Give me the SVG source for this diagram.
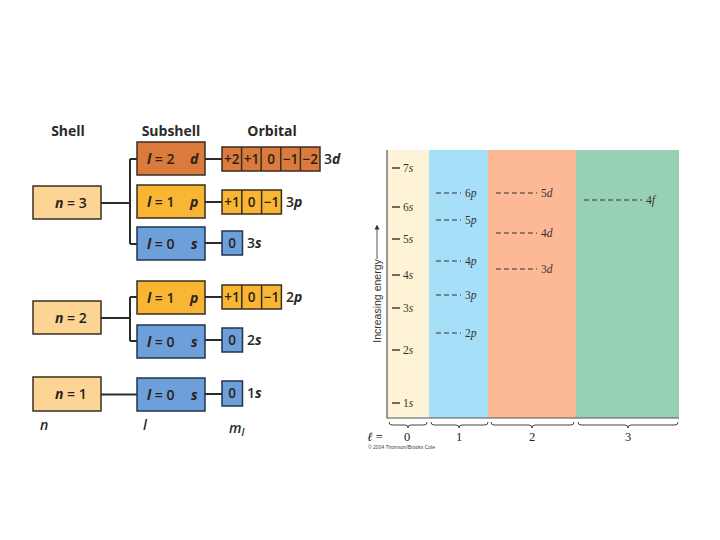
<svg xmlns="http://www.w3.org/2000/svg" width="720" height="540" viewBox="0 0 720 540">
<defs>
<style>
.hdr{font-family:"Open Sans","Liberation Sans",sans-serif;font-weight:700;font-size:14px;fill:#2a2a2a;text-anchor:middle}
.bx{stroke:#3a2e22;stroke-width:1.5}
.n{fill:#FCD493}
.d{fill:#DA7A3C}
.p{fill:#F8B634}
.s{fill:#6D9FDA;stroke:#1f3550}
.t{font-family:"Open Sans","Liberation Sans",sans-serif;font-weight:600;font-size:14px;fill:#2a2218}
.it{font-style:italic;font-weight:700}
.cell{font-family:"Open Sans","Liberation Sans",sans-serif;font-weight:600;font-size:13.5px;fill:#2a2218;text-anchor:middle}
.lbl{font-family:"Open Sans","Liberation Sans",sans-serif;font-weight:600;font-size:14px;fill:#2a2a2a}
.con{stroke:#2a2a2a;stroke-width:2;fill:none}
.lv{font-family:"Liberation Serif",serif;font-size:11.5px;fill:#333}
.sl{stroke:#333;stroke-width:1.4}
.dl{stroke:#333;stroke-width:1.2;stroke-dasharray:5,3}
.br{stroke:#444;stroke-width:1;fill:none}
.ax{font-family:"Liberation Serif",serif;font-size:12.5px;fill:#222;text-anchor:middle}
</style>
<marker id="ah" viewBox="0 0 10 10" refX="5" refY="5" markerWidth="5" markerHeight="6" orient="auto"><path d="M0,0 L10,5 L0,10 Z" fill="#333"/></marker>
</defs>
<rect width="720" height="540" fill="#fff"/>

<g id="headers">
<text class="hdr" x="68" y="136">Shell</text>
<text class="hdr" x="171" y="136">Subshell</text>
<text class="hdr" x="272" y="136">Orbital</text>
</g>

<g id="connectors">
<path class="con" d="M101,203 H130 M130,159 V244 M130,159 H137 M130,244 H137"/>
<path class="con" d="M101,318 H130 M130,297 V341 M130,297 H137 M130,341 H137"/>
<path class="con" d="M101,394.5 H137"/>
<path class="con" d="M205,159 H222 M205,202 H222 M205,243 H222 M205,297 H222 M205,340 H222 M205,394 H222"/>
</g>

<g id="shell-n3"><rect class="bx n" x="33" y="186" width="68" height="33"/><text class="t" x="55" y="208"><tspan class="it">n</tspan> = 3</text></g>
<g id="shell-n2"><rect class="bx n" x="33" y="301" width="68" height="33"/><text class="t" x="55" y="323"><tspan class="it">n</tspan> = 2</text></g>
<g id="shell-n1"><rect class="bx n" x="33" y="377" width="68" height="34"/><text class="t" x="55" y="399"><tspan class="it">n</tspan> = 1</text></g>

<g id="sub-3d"><rect class="bx d" x="137" y="142" width="68" height="33"/><text class="t" x="147" y="164"><tspan class="it">l</tspan> = 2</text><text class="t it" x="190" y="164">d</text></g>
<g id="sub-3p"><rect class="bx p" x="137" y="185" width="68" height="33"/><text class="t" x="147" y="207"><tspan class="it">l</tspan> = 1</text><text class="t it" x="190" y="207">p</text></g>
<g id="sub-3s"><rect class="bx s" x="137" y="227" width="68" height="33"/><text class="t" x="147" y="249"><tspan class="it">l</tspan> = 0</text><text class="t it" x="191" y="249">s</text></g>
<g id="sub-2p"><rect class="bx p" x="137" y="281" width="68" height="33"/><text class="t" x="147" y="303"><tspan class="it">l</tspan> = 1</text><text class="t it" x="190" y="303">p</text></g>
<g id="sub-2s"><rect class="bx s" x="137" y="325" width="68" height="33"/><text class="t" x="147" y="347"><tspan class="it">l</tspan> = 0</text><text class="t it" x="191" y="347">s</text></g>
<g id="sub-1s"><rect class="bx s" x="137" y="378" width="68" height="33"/><text class="t" x="147" y="400"><tspan class="it">l</tspan> = 0</text><text class="t it" x="191" y="400">s</text></g>

<g id="orb-3d">
<rect class="bx d" x="222" y="147" width="98" height="24"/>
<path class="bx" d="M241.6,147V171M261.2,147V171M280.8,147V171M300.4,147V171"/>
<text class="cell" x="231.8" y="164">+2</text><text class="cell" x="251.4" y="164">+1</text><text class="cell" x="271" y="164">0</text><text class="cell" x="290.6" y="164">−1</text><text class="cell" x="310.2" y="164">−2</text>
<text class="lbl" x="324" y="164">3<tspan class="it">d</tspan></text>
</g>
<g id="orb-3p">
<rect class="bx p" x="222" y="190" width="59.4" height="24"/>
<path class="bx" d="M241.8,190V214M261.6,190V214"/>
<text class="cell" x="231.9" y="207">+1</text><text class="cell" x="251.7" y="207">0</text><text class="cell" x="271.5" y="207">−1</text>
<text class="lbl" x="286" y="207">3<tspan class="it">p</tspan></text>
</g>
<g id="orb-3s">
<rect class="bx s" x="222" y="231" width="20.5" height="24"/>
<text class="cell" x="232.2" y="248">0</text>
<text class="lbl" x="247" y="248">3<tspan class="it">s</tspan></text>
</g>
<g id="orb-2p">
<rect class="bx p" x="222" y="285" width="59.4" height="24"/>
<path class="bx" d="M241.8,285V309M261.6,285V309"/>
<text class="cell" x="231.9" y="302">+1</text><text class="cell" x="251.7" y="302">0</text><text class="cell" x="271.5" y="302">−1</text>
<text class="lbl" x="286" y="302">2<tspan class="it">p</tspan></text>
</g>
<g id="orb-2s">
<rect class="bx s" x="222" y="328" width="20.5" height="24"/>
<text class="cell" x="232.2" y="345">0</text>
<text class="lbl" x="247" y="345">2<tspan class="it">s</tspan></text>
</g>
<g id="orb-1s">
<rect class="bx s" x="222" y="381" width="20.5" height="25"/>
<text class="cell" x="232.2" y="398">0</text>
<text class="lbl" x="247" y="398">1<tspan class="it">s</tspan></text>
</g>

<g id="bottom-labels">
<text class="lbl it" x="40" y="430">n</text>
<text class="lbl it" x="143" y="430">l</text>
<text class="lbl it" x="229" y="433">m<tspan font-size="10" dy="3">l</tspan></text>
</g>

<g id="energy-chart">
<rect x="387" y="150" width="42" height="268" fill="#FEF3D6"/>
<rect x="429" y="150" width="59" height="268" fill="#A6DFF8"/>
<rect x="488" y="150" width="88" height="268" fill="#FDB995"/>
<rect x="576" y="150" width="103" height="268" fill="#97D0B3"/>
<path d="M387,150 V418 H679" stroke="#555" stroke-width="1.2" fill="none"/>

<g id="s-levels">
<line class="sl" x1="392" y1="168" x2="400" y2="168"/><text class="lv" x="403" y="172">7<tspan font-style="italic">s</tspan></text>
<line class="sl" x1="392" y1="207" x2="400" y2="207"/><text class="lv" x="403" y="211">6<tspan font-style="italic">s</tspan></text>
<line class="sl" x1="392" y1="239" x2="400" y2="239"/><text class="lv" x="403" y="243">5<tspan font-style="italic">s</tspan></text>
<line class="sl" x1="392" y1="275" x2="400" y2="275" stroke="#777"/><text class="lv" x="403" y="279">4<tspan font-style="italic">s</tspan></text>
<line class="sl" x1="392" y1="308" x2="400" y2="308"/><text class="lv" x="403" y="312">3<tspan font-style="italic">s</tspan></text>
<line class="sl" x1="392" y1="350" x2="400" y2="350"/><text class="lv" x="403" y="354">2<tspan font-style="italic">s</tspan></text>
<line class="sl" x1="392" y1="403" x2="400" y2="403" stroke="#999"/><text class="lv" x="403" y="407">1<tspan font-style="italic">s</tspan></text>
</g>
<g id="p-levels">
<line class="dl" x1="436" y1="193" x2="461" y2="193"/><text class="lv" x="465" y="197">6<tspan font-style="italic">p</tspan></text>
<line class="dl" x1="436" y1="220" x2="461" y2="220"/><text class="lv" x="465" y="224">5<tspan font-style="italic">p</tspan></text>
<line class="dl" x1="436" y1="261" x2="461" y2="261"/><text class="lv" x="465" y="265">4<tspan font-style="italic">p</tspan></text>
<line class="dl" x1="436" y1="295" x2="461" y2="295" stroke="#111"/><text class="lv" x="465" y="299">3<tspan font-style="italic">p</tspan></text>
<line class="dl" x1="436" y1="333" x2="461" y2="333"/><text class="lv" x="465" y="337">2<tspan font-style="italic">p</tspan></text>
</g>
<g id="d-levels">
<line class="dl" x1="496" y1="193" x2="537" y2="193" stroke="#111"/><text class="lv" x="541" y="197">5<tspan font-style="italic">d</tspan></text>
<line class="dl" x1="496" y1="233" x2="537" y2="233" stroke="#777"/><text class="lv" x="541" y="237" fill="#666">4<tspan font-style="italic">d</tspan></text>
<line class="dl" x1="496" y1="269" x2="537" y2="269" stroke="#777"/><text class="lv" x="541" y="273" fill="#555">3<tspan font-style="italic">d</tspan></text>
</g>
<g id="f-levels">
<line class="dl" x1="584" y1="200" x2="642" y2="200" stroke="#1e4d3a" stroke-width="1.7"/><text class="lv" x="646" y="204" fill="#1e4d3a">4<tspan font-style="italic">f</tspan></text>
</g>

<g id="energy-axis">
<line x1="377" y1="259" x2="377" y2="227" stroke="#555" stroke-width="1" marker-end="url(#ah)"/>
<text transform="translate(381,301) rotate(-90)" font-family="Liberation Sans Narrow,Liberation Sans,sans-serif" font-size="10.5" fill="#333" text-anchor="middle">Increasing energy</text>
</g>

<g id="braces">
<path class="br" d="M389,422 q0,3 3,3 h13 q3,0 3,3 q0,-3 3,-3 h13 q3,0 3,-3"/>
<path class="br" d="M431,422 q0,3 3,3 h22 q3,0 3,3 q0,-3 3,-3 h23 q3,0 3,-3"/>
<path class="br" d="M491,422 q0,3 3,3 h35 q3,0 3,3 q0,-3 3,-3 h36 q3,0 3,-3"/>
<path class="br" d="M578,422 q0,3 3,3 h44 q3,0 3,3 q0,-3 3,-3 h44 q3,0 3,-3"/>
<text class="ax" x="375" y="441"><tspan font-style="italic">ℓ</tspan> =</text>
<text class="ax" x="407" y="441">0</text>
<text class="ax" x="459" y="441">1</text>
<text class="ax" x="532" y="441">2</text>
<text class="ax" x="628" y="441">3</text>
<text x="368" y="449" font-family="Liberation Sans,sans-serif" font-size="5" fill="#444">© 2004 Thomson/Brooks Cole</text>
</g>
</g>
</svg>
